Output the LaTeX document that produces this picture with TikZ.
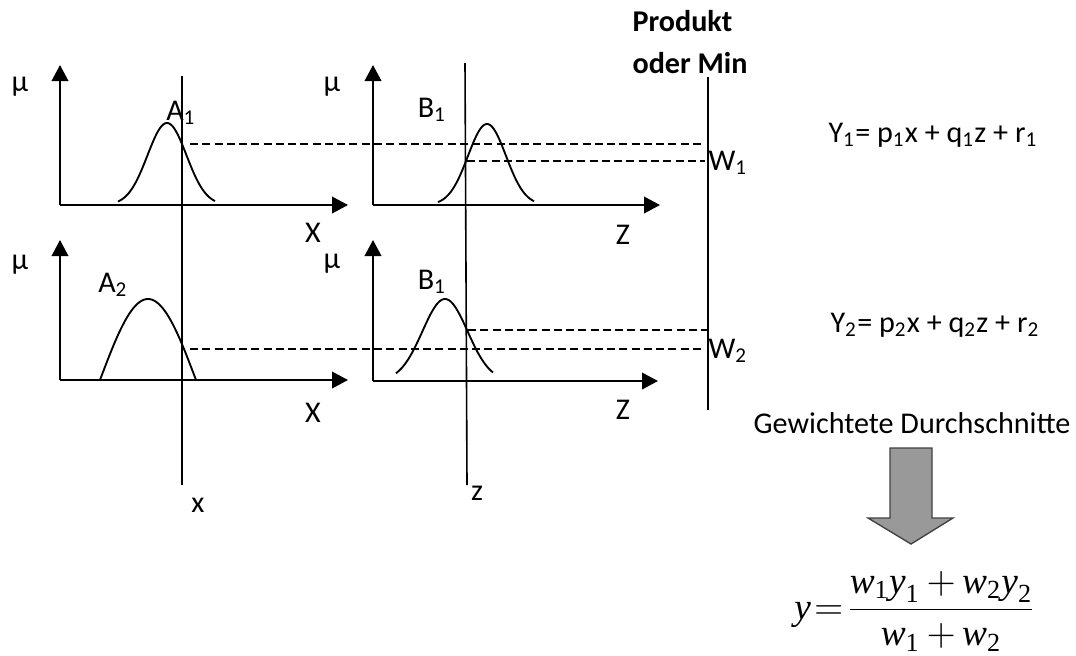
\documentclass[tikz,border=0pt]{standalone}
\usepackage{amsmath}
\usepackage{fontspec}
\setmainfont{Carlito}
\newfontfamily\tms{Liberation Serif}
\usetikzlibrary{arrows.meta}
\newcommand\tv[1]{\text{\tms\itshape #1}}
\newcommand\tn[1]{\text{\tms #1}}
\newcommand\sbs[1]{\textsubscript{#1}}
\tikzset{
  lbl/.style={inner sep=0pt, font=\fontsize{11.3}{13.5}\selectfont},
  axis/.style={line width=0.8pt, -{Triangle[length=6pt,width=6.2pt]}},
  cut/.style={line width=0.6pt},
  curve/.style={line width=0.7pt},
  lev/.style={line width=0.6pt, dash pattern=on 3pt off 1.6pt},
}
\begin{document}
\begin{tikzpicture}[x=0.375pt,y=-0.375pt]
\useasboundingbox (0,0) rectangle (1076,655);
% axis coordinates
\coordinate (o1) at (60,205);  \coordinate (y1) at (60,65);  \coordinate (x1) at (348,205);
\coordinate (o2) at (373,205); \coordinate (y2) at (373,65); \coordinate (x2) at (660,205);
\coordinate (o3) at (60,380);  \coordinate (y3) at (60,240); \coordinate (x3) at (348,380);
\coordinate (o4) at (373,381); \coordinate (y4) at (373,240);\coordinate (x4) at (658,381);
\draw[axis] (o1) -- (y1); \draw[axis] (o1) -- (x1);
\draw[axis] (o2) -- (y2); \draw[axis] (o2) -- (x2);
\draw[axis] (o3) -- (y3); \draw[axis] (o3) -- (x3);
\draw[axis] (o4) -- (y4); \draw[axis] (o4) -- (x4);
% membership curves
\draw[curve] plot[domain=118:215,samples=80] (\x,{205-82*exp(-((\x-167)^2)/760)});
\draw[curve] plot[domain=438:534,samples=80] (\x,{205-81*exp(-((\x-487)^2)/722)});
\draw[curve] plot[domain=100:196,samples=80] (\x,{380-81*cos(90*(\x-148)/48)});
\draw[curve] plot[domain=396:493,samples=80] (\x,{381-82*exp(-((\x-445)^2)/1018)});
% vertical cut lines
\coordinate (xt) at (182,76);  \coordinate (xb) at (182,485);
\coordinate (zt) at (465,63);  \coordinate (zb) at (467,485);
\coordinate (pt) at (708,77);  \coordinate (pb) at (708,410);
\draw[cut] (xt) -- (xb);
\draw[cut] (zt) -- (zb);
\draw[cut] (pt) -- (pb);
% levels
\coordinate (a1) at (190,144); \coordinate (a1e) at (705,144);
\coordinate (b1) at (467,161); \coordinate (b1e) at (705,161);
\coordinate (b2) at (468,330); \coordinate (b2e) at (708,330);
\coordinate (a2) at (190,349); \coordinate (a2e) at (705,349);
\draw[lev] (a1) -- (a1e);
\draw[lev] (b1) -- (b1e);
\draw[lev] (b2) -- (b2e);
\draw[lev] (a2) -- (a2e);
% labels
\node[lbl] (mu1) at (20,87) {μ};
\node[lbl] (mu2) at (332,87) {μ};
\node[lbl] (mu3) at (20,265) {μ};
\node[lbl] (mu4) at (332,264) {μ};
\node[lbl] (A1) at (181,113) {A\sbs{1}};
\node[lbl] (B1) at (432,110) {B\sbs{1}};
\node[lbl] (A2) at (113,285) {A\sbs{2}};
\node[lbl] (B1b) at (432,282) {B\sbs{1}};
\node[lbl] (X1) at (313,233) {X};
\node[lbl] (Z1) at (623,235) {Z};
\node[lbl] (X2) at (313,413) {X};
\node[lbl] (Z2) at (623,410) {Z};
\node[lbl] (xl) at (198,505) {x};
\node[lbl] (zl) at (477,493) {z};
\node[lbl,anchor=west] (W1) at (708,163) {W\sbs{1}};
\node[lbl,anchor=west] (W2) at (708,351) {W\sbs{2}};
\node[lbl,anchor=west,align=left,font=\fontsize{11.3}{15.4}\selectfont\bfseries] (prod) at (632,42) {Produkt\\oder Min};
\node[lbl,anchor=west] (Y1) at (828,135) {Y\sbs{1}= p\sbs{1}x + q\sbs{1}z + r\sbs{1}};
\node[lbl,anchor=west] (Y2) at (830,325) {Y\sbs{2}= p\sbs{2}x + q\sbs{2}z + r\sbs{2}};
\node[lbl] (gew) at (912,423) {Gewichtete Durchschnitte};
% gray arrow
\draw[fill=black!40, draw=black!75, line width=0.5pt]
  (890,448) -- (932,448) -- (932,518) -- (953,518) -- (911,544) -- (868,518) -- (890,518) -- cycle;
\node[inner sep=0pt, font=\fontsize{14}{17}\selectfont] (res) at (915,611)
  {\thickmuskip=1.5mu \medmuskip=3mu $\tv{y}=\dfrac{\tv{w}_{\tn{1}}\tv{y}_{\tn{1}}+\tv{w}_{\tn{2}}\tv{y}_{\tn{2}}}{\tv{w}_{\tn{1}}+\tv{w}_{\tn{2}}}$};
\end{tikzpicture}
\end{document}
